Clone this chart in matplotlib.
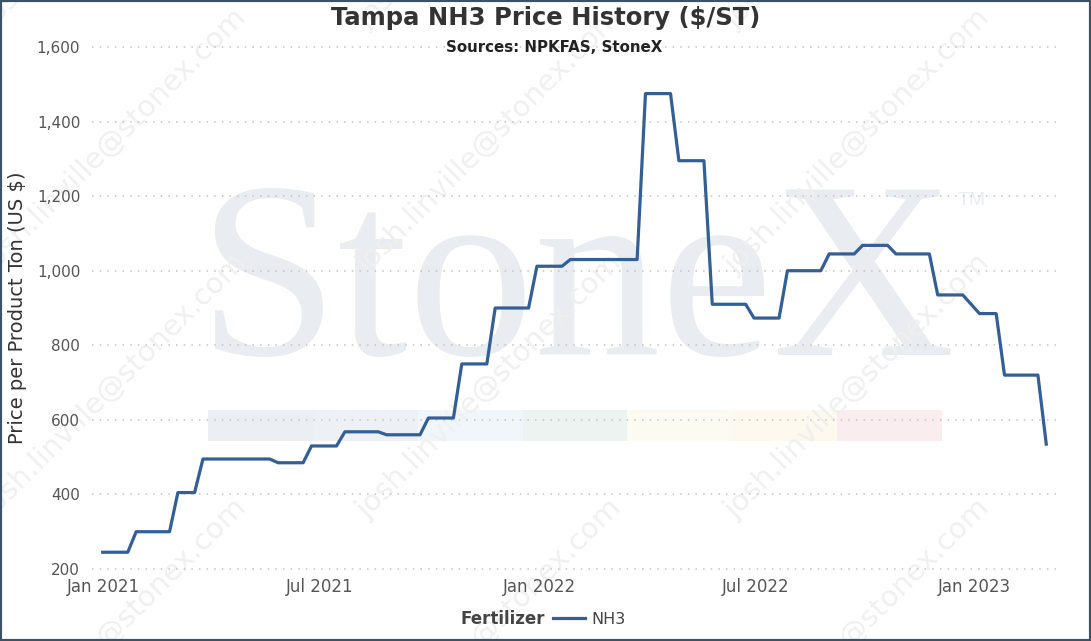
import pandas as pd
import numpy as np
import matplotlib
matplotlib.use('Agg')
import matplotlib.pyplot as plt
import matplotlib.dates as mdates
from matplotlib.patches import Rectangle

# weekly Tampa NH3 price ($/short ton)
start_week = '2020-12-31'
prices = [
    245, 245, 245, 245,
    300, 300, 300, 300, 300,
    405, 405, 405,
    495, 495, 495, 495, 495, 495, 495, 495, 495,
    485, 485, 485, 485,
    530, 530, 530, 530,
    568, 568, 568, 568, 568,
    560, 560, 560, 560, 560,
    605, 605, 605, 605,
    750, 750, 750, 750,
    900, 900, 900, 900, 900,
    1012, 1012, 1012, 1012,
    1030, 1030, 1030, 1030, 1030, 1030, 1030, 1030, 1030,
    1475, 1475, 1475, 1475,
    1295, 1295, 1295, 1295,
    910, 910, 910, 910, 910,
    873, 873, 873, 873,
    1000, 1000, 1000, 1000, 1000,
    1045, 1045, 1045, 1045,
    1068, 1068, 1068, 1068,
    1045, 1045, 1045, 1045, 1045,
    935, 935, 935, 935,
    910,
    885, 885, 885,
    720, 720, 720, 720, 720,
    535,
]
dates = pd.date_range(start_week, periods=len(prices), freq='7D')

y_ticks = [200, 400, 600, 800, 1000, 1200, 1400, 1600]
band_colors = ['#ebeef2', '#edf1f5', '#f1f6fa', '#edf3f1', '#fcfbf1', '#fdf9ef', '#f9edef']

W, H = 1091, 641
fig = plt.figure(figsize=(W / 100, H / 100), dpi=100)
fig.patch.set_facecolor('white')

# --- watermark (behind everything) ---
fig.text(576 / W, 1 - 355 / H, 'StoneX', family='Liberation Serif', fontsize=182,
         color='#e9edf1', ha='center', va='baseline', zorder=-3)
fig.text(958 / W, 1 - 192 / H, 'TM', family='Liberation Sans', fontsize=14,
         color='#e9edf1', ha='left', va='top', zorder=-3)
seg_w = 734 / len(band_colors)
for i, c in enumerate(band_colors):
    fig.patches.append(Rectangle(((208 + i * seg_w) / W, 1 - 441 / H), seg_w / W, 31 / H,
                                 transform=fig.transFigure, facecolor=c, edgecolor='none',
                                 zorder=-3))
for cx in [114, 489, 857, 1230]:
    for cy in [-104, 141, 386, 631, 876]:
        fig.text(cx / W, 1 - cy / H, 'josh.linville@stonex.com', fontsize=21,
                 color='#f0f0f0', rotation=45, rotation_mode='anchor',
                 ha='center', va='center', zorder=-2)

# --- main axes ---
ax = fig.add_axes([92 / W, 1 - 572 / H, 965 / W, 528 / H])
ax.set_facecolor('none')
ax.plot(dates, prices, color='#335f96', linewidth=2.3, label='NH3', zorder=3)

ax.set_ylim(192, 1608)
ax.set_xlim(pd.Timestamp('2020-12-22'), pd.Timestamp('2023-03-11'))
ax.set_yticks(y_ticks)
ax.yaxis.set_major_formatter(matplotlib.ticker.FuncFormatter(lambda v, p: f'{v:,.0f}'))
ax.xaxis.set_major_locator(mdates.MonthLocator(bymonth=[1, 7]))
ax.xaxis.set_major_formatter(mdates.DateFormatter('%b %Y'))
ax.tick_params(axis='both', length=0, labelcolor='#555555')
ax.tick_params(axis='y', pad=8.5, labelsize=11)
ax.tick_params(axis='x', pad=4, labelsize=12)
ax.grid(axis='y', color='#c4c4c4', linestyle=(0, (1, 4)), linewidth=1.1)
ax.grid(axis='x', visible=False)
for s in ax.spines.values():
    s.set_visible(False)

ax.set_ylabel('Price per Product Ton (US $)', fontsize=14, color='#333333')
ax.yaxis.set_label_coords((27 - 92) / 965, 0.5)

# titles
fig.text(546 / W, 1 - 18 / H, 'Tampa NH3 Price History ($/ST)', fontsize=17.5,
         fontweight='bold', color='#333333', ha='center', va='center')
fig.text(554 / W, 1 - 47 / H, 'Sources: NPKFAS, StoneX', fontsize=10.8,
         fontweight='bold', color='#222222', ha='center', va='center')

# legend
fig.text(460 / W, 1 - 619 / H, 'Fertilizer', fontsize=12, fontweight='bold',
         color='#444444', ha='left', va='center')
fig.legend(loc='center left', bbox_to_anchor=(553 / W, 1 - 619 / H), frameon=False,
           fontsize=11.5, handlelength=2.0, handletextpad=0.4, borderpad=0,
           borderaxespad=0, labelcolor='#444444')

# outer frame
fig.patches.append(Rectangle((0, 0), 1, 1, transform=fig.transFigure, fill=False,
                             edgecolor='#3f5164', linewidth=3, zorder=10))

fig.savefig('out.png', dpi=100)
